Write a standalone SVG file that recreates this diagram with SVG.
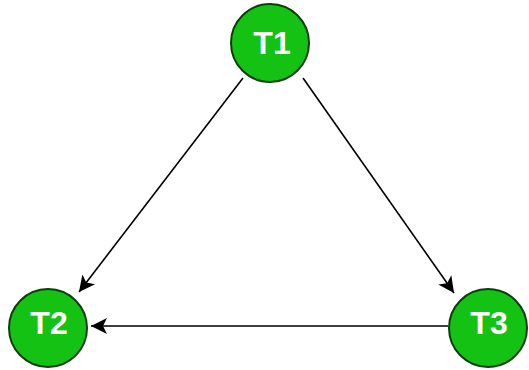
<svg xmlns="http://www.w3.org/2000/svg" width="529" height="370" viewBox="0 0 529 370">
<style>
.node{fill:#14c214;stroke:#0d3d0d;stroke-width:2}
.lbl{fill:#ffffff;font-family:"Liberation Sans",Arial,sans-serif;font-weight:bold;font-size:32px;text-anchor:middle;dominant-baseline:central}
.edge{stroke:#000000;stroke-width:1.6;fill:none}
</style>
<defs>
<marker id="arr" markerUnits="userSpaceOnUse" markerWidth="20" markerHeight="18" refX="17" refY="9" orient="auto">
<path d="M1,1 L17,9 L1,17 L5,9 Z" fill="#000000"/>
</marker>
</defs>
<rect width="529" height="370" fill="#ffffff"/>
<g id="connectors">
<line class="edge" x1="243" y1="78" x2="79" y2="292" marker-end="url(#arr)"/>
<line class="edge" x1="303" y1="78" x2="454" y2="293" marker-end="url(#arr)"/>
<line class="edge" x1="448" y1="326" x2="91" y2="326" marker-end="url(#arr)"/>
</g>
<g id="T1">
<circle class="node" cx="270" cy="43" r="39"/>
<text class="lbl" x="272" y="43">T1</text>
</g>
<g id="T2">
<circle class="node" cx="48" cy="328" r="39"/>
<text class="lbl" x="49" y="323">T2</text>
</g>
<g id="T3">
<circle class="node" cx="488" cy="328" r="39"/>
<text class="lbl" x="489" y="323">T3</text>
</g>
</svg>
